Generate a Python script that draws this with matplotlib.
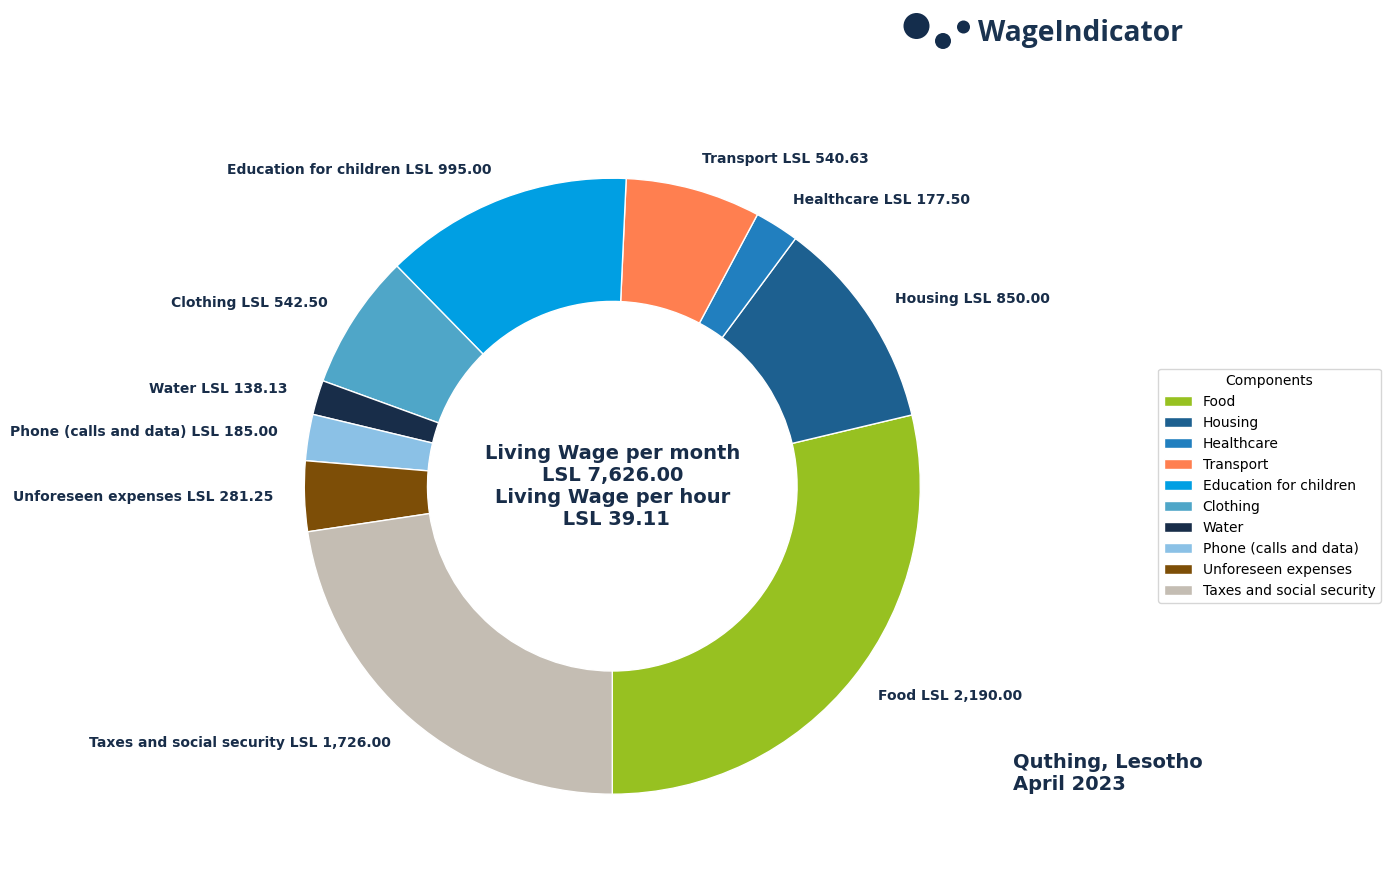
import matplotlib
matplotlib.use("Agg")
import matplotlib.pyplot as plt
from matplotlib.patches import Circle

components = ["Food", "Housing", "Healthcare", "Transport", "Education for children",
              "Clothing", "Water", "Phone (calls and data)", "Unforeseen expenses",
              "Taxes and social security"]
values = [2190.00, 850.00, 177.50, 540.63, 995.00, 542.50, 138.13, 185.00, 281.25, 1726.00]
colors = ["#97c121", "#1d6090", "#217fbf", "#ff7f50", "#009fe3", "#4fa6c8", "#182d49",
          "#8bc1e6", "#7d4e07", "#c4bdb3"]
navy = "#182d49"
W, H = 1390, 881
labels = [f"{c} LSL {v:,.2f}" for c, v in zip(components, values)]

fig = plt.figure(figsize=(W / 100, H / 100), dpi=100)
ax = fig.add_axes([(612.3 - 385) / W, (H - 486.2 - 385) / H, 770 / W, 770 / H])
wedges, texts = ax.pie(values, labels=labels, colors=colors, startangle=-90, counterclock=True,
                       labeldistance=1.1, radius=1,
                       wedgeprops=dict(width=0.4, edgecolor="white", linewidth=1),
                       textprops=dict(color=navy, fontweight="bold", fontsize=10))
ax.set_xlim(-1.25, 1.25)
ax.set_ylim(-1.25, 1.25)

overlay = fig.add_axes([0, 0, 1, 1], zorder=5)
overlay.set_xlim(0, W)
overlay.set_ylim(H, 0)
overlay.axis("off")
overlay.patch.set_alpha(0)

overlay.text(612.5, 486.8, "Living Wage per month\nLSL 7,626.00\nLiving Wage per hour\n LSL 39.11",
             ha="center", va="center", color=navy, fontsize=14, fontweight="bold")
overlay.text(1013, 773, "Quthing, Lesotho\nApril 2023", ha="left", va="center",
             color=navy, fontsize=14, fontweight="bold")

for x, y, r in [(916.5, 26, 13), (943, 41, 8), (963.5, 27, 6.5)]:
    overlay.add_patch(Circle((x, y), r, color="#142d4c", lw=0))
overlay.text(978.5, 34, "WageIndicator", ha="left", va="center", color="#1a3350",
             fontsize=20.3, fontweight="bold", family=["Open Sans", "DejaVu Sans"])

fig.legend(wedges, components, title="Components", fontsize=10, title_fontsize=10,
           loc="upper right", bbox_to_anchor=(1381 / W, 1 - 368.6 / H), borderaxespad=0,
           borderpad=0.4)

fig.savefig("out.png", dpi=100)
